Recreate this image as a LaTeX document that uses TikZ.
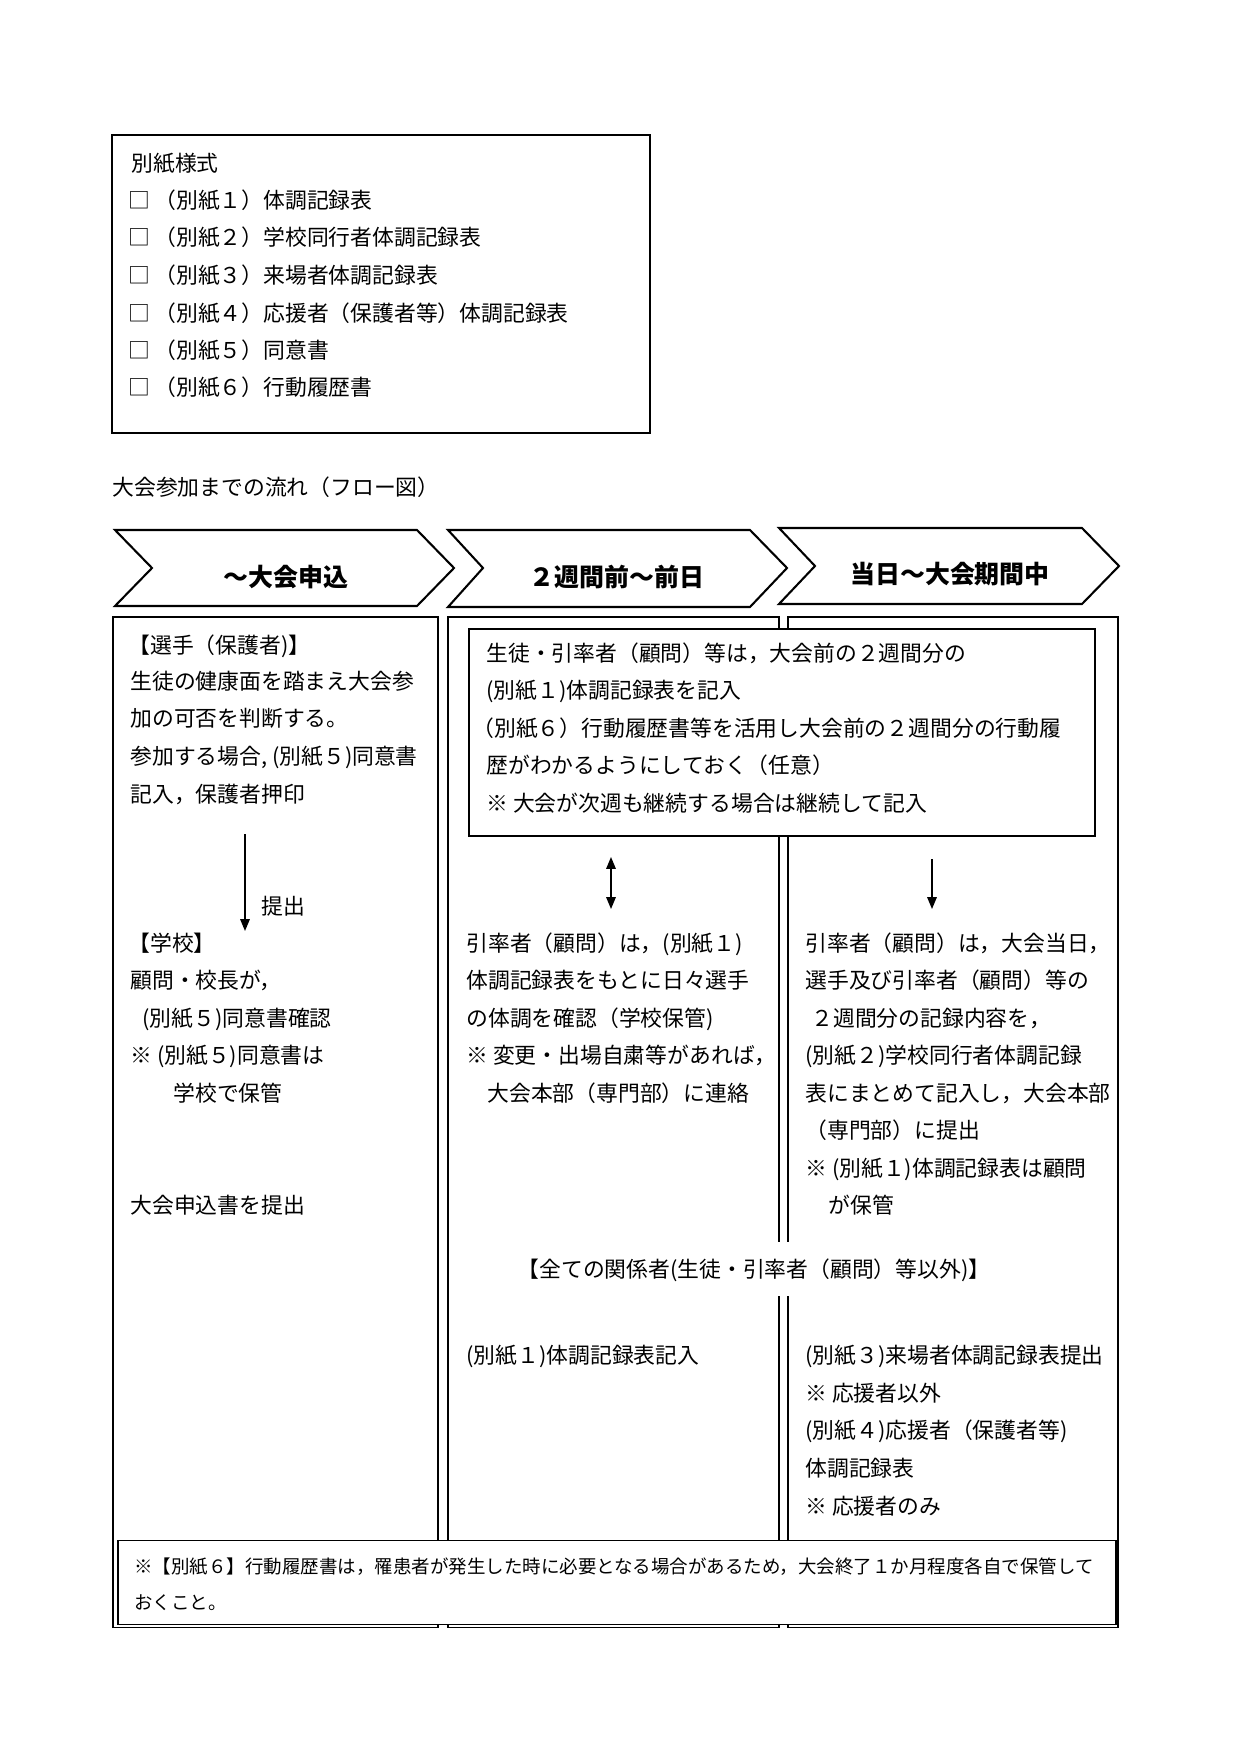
\documentclass[tikz,border=0pt]{standalone}
\usepackage{fontspec}
\setmainfont{Noto Sans CJK JP}
\usetikzlibrary{arrows.meta}
\newcommand\TLine[4]{\node[txt] (#1) at (#2,#3) {#4};}
\begin{document}
\begin{tikzpicture}[x=0.169218mm,y=-0.169218mm,
 txt/.style={anchor=west,inner sep=0pt,text height=8pt,text depth=0pt,font=\fontsize{10.5}{13}\selectfont},
 ftxt/.style={anchor=west,inner sep=0pt,text height=6.8pt,text depth=0pt,font=\fontsize{8.9}{11}\selectfont},
 boxline/.style={draw=black,line width=0.5pt},
 chev/.style={draw=black,line width=1pt,line join=miter},
 chevtext/.style={inner sep=0pt,font=\fontsize{12}{14}\selectfont\bfseries},
 arr/.style={line width=0.7pt,-{Triangle[length=2mm,width=1.6mm]}},
 darr/.style={line width=0.7pt,{Triangle[length=2mm,width=1.6mm]}-{Triangle[length=2mm,width=1.6mm]}},
]
\useasboundingbox (0,0) rectangle (1241,1755);
\fill[white] (0,0) rectangle (1241,1755);

% list box
\draw[boxline] (112,135) rectangle (650,433);
\TLine{h0}{131}{163}{別紙様式}
\TLine{k1}{128}{200}{□} \TLine{l1}{154}{200}{（別紙１）体調記録表}
\TLine{k2}{128}{237}{□} \TLine{l2}{154}{237}{（別紙２）学校同行者体調記録表}
\TLine{k3}{128}{275}{□} \TLine{l3}{154}{275}{（別紙３）来場者体調記録表}
\TLine{k4}{128}{313}{□} \TLine{l4}{154}{313}{（別紙４）応援者（保護者等）体調記録表}
\TLine{k5}{128}{350}{□} \TLine{l5}{154}{350}{（別紙５）同意書}
\TLine{k6}{128}{387}{□} \TLine{l6}{154}{387}{（別紙６）行動履歴書}

\TLine{title}{112}{487}{大会参加までの流れ（フロー図）}

% chevrons
\draw[chev] (115,530) -- (417,530) -- (454,568) -- (417,606) -- (115,606) -- (152,568) -- cycle;
\node[chevtext] (p1) at (286,577) {～大会申込};
\draw[chev] (448,530) -- (750,530) -- (787,568) -- (750,607) -- (448,607) -- (483,568) -- cycle;
\node[chevtext] (p2) at (617,577) {２週間前～前日};
\draw[chev] (779,528) -- (1082,528) -- (1119,566) -- (1082,604) -- (779,604) -- (815,566) -- cycle;
\node[chevtext] (p3) at (950,574) {当日～大会期間中};

% columns
\draw[boxline] (113,617) rectangle (438,1627);
\draw[boxline] (448,617) rectangle (779,1627);
\draw[boxline] (788,617) rectangle (1118,1627);

% top middle box
\draw[boxline,fill=white] (469,629) rectangle (1095,836);
\TLine{m1}{486}{653}{生徒・引率者（顧問）等は，大会前の２週間分の}
\TLine{m2}{486}{690}{(別紙１)体調記録表を記入}
\TLine{m3}{472}{728}{（別紙６）行動履歴書等を活用し大会前の２週間分の行動履}
\TLine{m4}{486}{765}{歴がわかるようにしておく（任意）}
\TLine{m5}{486}{803}{※ 大会が次週も継続する場合は継続して記入}

% left column
\TLine{a1}{128}{645}{【選手（保護者)】}
\TLine{a2}{130}{681}{生徒の健康面を踏まえ大会参}
\TLine{a3}{130}{718}{加の可否を判断する。}
\TLine{a4}{130}{756}{参加する場合, (別紙５)同意書}
\TLine{a5}{130}{794}{記入，保護者押印}
\coordinate (as) at (245,834);
\coordinate (ae) at (245,931);
\draw[arr] (as) -- (ae);
\TLine{a6}{261}{906}{提出}
\TLine{a7}{128}{943}{【学校】}
\TLine{a8}{130}{980}{顧問・校長が，}
\TLine{a9}{142}{1018}{(別紙５)同意書確認}
\TLine{a10}{130}{1055}{※ (別紙５)同意書は}
\TLine{a11}{173}{1093}{学校で保管}
\TLine{a12}{130}{1205}{大会申込書を提出}

% middle column
\coordinate (bs) at (611,857);
\coordinate (be) at (611,909);
\draw[darr] (bs) -- (be);
\TLine{b1}{466}{943}{引率者（顧問）は，(別紙１)}
\TLine{b2}{466}{980}{体調記録表をもとに日々選手}
\TLine{b3}{466}{1018}{の体調を確認（学校保管)}
\TLine{b4}{466}{1055}{※ 変更・出場自粛等があれば，}
\TLine{b5}{487}{1093}{大会本部（専門部）に連絡}
\TLine{b6}{466}{1355}{(別紙１)体調記録表記入}

% right column
\coordinate (cs) at (932,859);
\coordinate (ce) at (932,909);
\draw[arr] (cs) -- (ce);
\TLine{c1}{805}{943}{引率者（顧問）は，大会当日，}
\TLine{c2}{805}{980}{選手及び引率者（顧問）等の}
\TLine{c3}{811}{1018}{２週間分の記録内容を，}
\TLine{c4}{805}{1055}{(別紙２)学校同行者体調記録}
\TLine{c5}{805}{1093}{表にまとめて記入し，大会本部}
\TLine{c6}{805}{1130}{（専門部）に提出}
\TLine{c7}{805}{1168}{※ (別紙１)体調記録表は顧問}
\TLine{c8}{828}{1205}{が保管}
\TLine{c9}{805}{1355}{(別紙３)来場者体調記録表提出}
\TLine{c10}{805}{1393}{※ 応援者以外}
\TLine{c11}{805}{1430}{(別紙４)応援者（保護者等)}
\TLine{c12}{805}{1468}{体調記録表}
\TLine{c13}{805}{1506}{※ 応援者のみ}

% spanning label
\node[txt,anchor=center,fill=white,minimum height=9.3mm] (all) at (754,1269) {【全ての関係者(生徒・引率者（顧問）等以外)】};

% footnote
\draw[boxline,fill=white] (118,1540) rectangle (1116,1624);
\node[ftxt] (f1) at (134,1566) {※【別紙６】行動履歴書は，罹患者が発生した時に必要となる場合があるため，大会終了１か月程度各自で保管して};
\node[ftxt] (f2) at (134,1602) {おくこと。};
\end{tikzpicture}
\end{document}
